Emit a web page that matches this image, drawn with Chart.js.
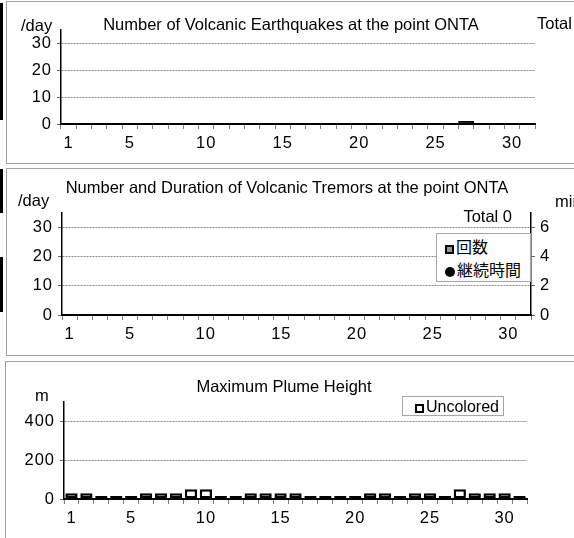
<!DOCTYPE html>
<html lang="ja">
<head>
<meta charset="UTF-8">
<title>ONTA</title>
<script src="https://cdn.jsdelivr.net/npm/chart.js"></script>
<style>
  html, body { margin: 0; padding: 0; }
  body { width: 574px; height: 538px; overflow: hidden; position: relative; background: #fff;
         font-family: "Liberation Sans", Arial, sans-serif; color: #000; }
  .panel { position: absolute; border: 1px solid #a0a0a0; background: #fff; box-sizing: border-box; }
  canvas { position: absolute; left: 0; }
  .txt { position: absolute; font-size: 16.5px; line-height: 20px; white-space: nowrap; color: #000; }
  .title { transform: translateX(-50%); }
  .bar { position: absolute; left: 0; width: 3px; background: #000; }
  .legend { position: absolute; border: 1px solid #a6a6a6; background: #fff; box-sizing: border-box; }
  .legend div { position: absolute; font-size: 16px; line-height: 19px; white-space: nowrap; color: #000;
                font-family: "Liberation Sans", "Noto Sans CJK JP", sans-serif; }
  .mk { display: inline-block; box-sizing: border-box; vertical-align: -1px; margin-right: 2px; }
</style>
</head>
<body>

<!-- stray axis pieces on the left edge -->
<div class="bar" style="top:3px;height:117px"></div>
<div class="bar" style="top:169px;height:44px"></div>
<div class="bar" style="top:257px;height:55px"></div>

<div class="panel" style="left:6px;top:1px;width:600px;height:163px"></div>
<div class="panel" style="left:6px;top:168px;width:600px;height:188px"></div>
<div class="panel" style="left:5px;top:361px;width:600px;height:200px"></div>

<canvas id="quakeChart" width="574" height="164" style="top:0"></canvas>
<canvas id="tremorChart" width="574" height="190" style="top:166px"></canvas>
<canvas id="plumeChart" width="574" height="177" style="top:361px"></canvas>

<!-- panel 1 texts -->
<div class="txt title" style="left:291px;top:14px">Number of Volcanic Earthquakes at the point ONTA</div>
<div class="txt" style="left:21px;top:15px">/day</div>
<div class="txt" style="left:537px;top:13px">Total 1</div>

<!-- panel 2 texts -->
<div class="txt title" style="left:287px;top:177px">Number and Duration of Volcanic Tremors at the point ONTA</div>
<div class="txt" style="left:18px;top:190px">/day</div>
<div class="txt" style="left:555px;top:191px">min</div>
<div class="txt" style="right:62px;top:206px">Total 0</div>
<div class="legend" id="tremorLegend" style="left:436px;top:233px;width:95px;height:49px"></div>

<!-- panel 3 texts -->
<div class="txt title" style="left:284px;top:376px">Maximum Plume Height</div>
<div class="txt" style="left:35px;top:385px">m</div>
<div class="legend" id="plumeLegend" style="left:402px;top:396px;width:102px;height:20px"></div>

<script>
// days of the month
const days = ['1','2','3','4','5','6','7','8','9','10','11','12','13','14','15','16',
              '17','18','19','20','21','22','23','24','25','26','27','28','29','30','31'];
const dayLabels = ['1','5','10','15','20','25','30'];

// volcanic earthquakes per day
const quakeCounts = [0,0,0,0,0,0,0,0,0,0,0,0,0,0,0,0,0,0,0,0,0,0,0,0,0,0,1,0,0,0,0];

// volcanic tremors: count per day and duration (min)
const tremorCounts = [0,0,0,0,0,0,0,0,0,0,0,0,0,0,0,0,0,0,0,0,0,0,0,0,0,0,0,0,0,0,0];
const tremorMinutes = [null,null,null,null,null,null,null,null,null,null,null,null,null,null,null,null,
                       null,null,null,null,null,null,null,null,null,null,null,null,null,null,null];

// max plume height (m), uncolored
const plumeHeights = [30,30,0,0,0,30,30,30,50,50,0,0,30,30,30,30,0,0,0,0,30,30,0,30,30,0,50,30,30,30,0];

const countTicks = [0,10,20,30];
const minuteTicks = [0,2,4,6];
const plumeTicks = [0,200,400];

const countName = '回数';
const minuteName = '継続時間';
const plumeName = 'Uncolored';

const font = { family: '"Liberation Sans", Arial, sans-serif', size: 16.5 };

function dotPattern() {
    const c = document.createElement('canvas');
    c.width = 3; c.height = 3;
    const g = c.getContext('2d');
    g.fillStyle = '#000';
    g.fillRect(0, 0, 3, 3);
    g.fillStyle = '#9a9a9a';
    g.fillRect(1, 1, 1, 1);
    return g.createPattern(c, 'repeat');
}

// spaced digits like the original
const spacing = {
    id: 'spacing',
    beforeDraw(chart) { chart.ctx.letterSpacing = '1px'; }
};

function dayAxis(h) {
    return {
        type: 'category',
        offset: true,
        grid: { display: true, drawOnChartArea: false, drawTicks: true, tickLength: 5,
                offset: true, tickColor: '#808080', lineWidth: 1 },
        border: { display: true, color: '#000', width: 2 },
        ticks: {
            autoSkip: false, maxRotation: 0, padding: 5, color: '#000', font: font,
            callback(v) {
                const l = this.getLabelForValue(v);
                return dayLabels.includes(l) ? l : '';
            }
        },
        afterFit(s) { s.height = h; }
    };
}

function valueAxis(pos, max, step, labelled, w, gridOn) {
    return {
        position: pos, min: 0, max: max,
        ticks: {
            stepSize: step, padding: 5, color: '#000', font: font,
            callback: v => labelled.includes(v) ? String(v) : ''
        },
        grid: {
            drawTicks: true, tickLength: 4, tickColor: '#666', drawOnChartArea: gridOn,
            color: ctx => (ctx.tick && ctx.tick.value > 0 && labelled.includes(ctx.tick.value))
                ? '#8a8a8a' : 'rgba(0,0,0,0)'
        },
        border: { display: true, color: '#000', width: 1.5, dash: [2, 1] },
        afterFit(s) { s.width = w; }
    };
}

function baseOptions(padding) {
    return {
        responsive: false,
        animation: false,
        events: [],
        layout: { padding: padding },
        plugins: { legend: { display: false }, tooltip: { enabled: false } }
    };
}

const pattern = dotPattern();

// Chart 1: earthquakes
new Chart(document.getElementById('quakeChart'), {
    type: 'bar',
    data: {
        labels: days,
        datasets: [{
            label: countName, data: quakeCounts,
            backgroundColor: pattern, borderColor: '#000', borderWidth: 1,
            borderSkipped: false, barPercentage: 1, categoryPercentage: 1
        }]
    },
    options: Object.assign(baseOptions({ left: 0, right: 39, top: 30, bottom: 0 }), {
        scales: { x: dayAxis(40), y: valueAxis('left', 35, 5, countTicks, 61, true) }
    }),
    plugins: [spacing]
});

// Chart 2: tremors
new Chart(document.getElementById('tremorChart'), {
    type: 'bar',
    data: {
        labels: days,
        datasets: [{
            label: countName, data: tremorCounts,
            backgroundColor: pattern, borderColor: '#000', borderWidth: 1,
            borderSkipped: false, barPercentage: 1, categoryPercentage: 1, yAxisID: 'y'
        }, {
            type: 'line', label: minuteName, data: tremorMinutes, yAxisID: 'y2',
            showLine: false, pointRadius: 4, pointBackgroundColor: '#000', borderColor: '#000'
        }]
    },
    options: Object.assign(baseOptions({ left: 0, right: 0, top: 47, bottom: 0 }), {
        scales: {
            x: dayAxis(41),
            y: valueAxis('left', 35, 5, countTicks, 62, true),
            y2: valueAxis('right', 7, 1, minuteTicks, 43, false)
        }
    }),
    plugins: [spacing]
});

// Chart 3: plume height
new Chart(document.getElementById('plumeChart'), {
    type: 'bar',
    data: {
        labels: days,
        datasets: [{
            label: plumeName, data: plumeHeights,
            backgroundColor: '#fff', borderColor: '#000', borderWidth: 2.5,
            borderSkipped: false, barPercentage: 0.82, categoryPercentage: 1, minBarLength: 3
        }]
    },
    options: Object.assign(baseOptions({ left: 0, right: 47, top: 41, bottom: 0 }), {
        scales: { x: dayAxis(39), y: valueAxis('left', 500, 100, plumeTicks, 64, true) }
    }),
    plugins: [spacing]
});

// legends
document.getElementById('tremorLegend').innerHTML =
    '<div style="left:8px;top:4px"><span class="mk" style="width:9px;height:9px;border:2px solid #000;background:#999"></span>' + countName + '</div>' +
    '<div style="left:8px;top:27px"><span class="mk" style="width:10px;height:10px;border-radius:50%;background:#000"></span>' + minuteName + '</div>';
document.getElementById('plumeLegend').innerHTML =
    '<div style="left:12px;top:0px"><span class="mk" style="width:9px;height:9px;border:2px solid #000;background:#fff"></span>' + plumeName + '</div>';
</script>
</body>
</html>
